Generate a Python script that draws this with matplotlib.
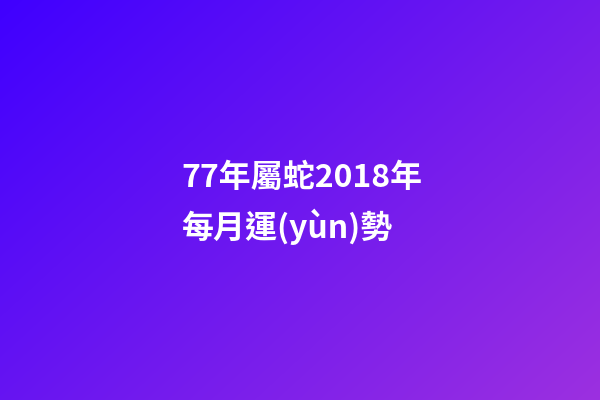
import numpy as np
import matplotlib
matplotlib.use("Agg")
import matplotlib.pyplot as plt

plt.rcParams['font.family'] = ['Noto Sans CJK TC', 'DejaVu Sans']

title_lines = ["77年屬蛇2018年", "每月運(yùn)勢"]
color_start = np.array([0x3f, 0x00, 0xff]) / 255.0
color_end = np.array([0x9c, 0x30, 0xe0]) / 255.0

W, H = 600, 400

fig = plt.figure(figsize=(6, 4), dpi=100)
ax = fig.add_axes([0, 0, 1, 1])
ax.set_xlim(0, W)
ax.set_ylim(H, 0)
ax.axis('off')

xx, yy = np.meshgrid(np.linspace(0, 1, W), np.linspace(0, 1, H))
t = 0.58 * xx + 0.42 * yy
img = color_start[None, None, :] * (1 - t[..., None]) + color_end[None, None, :] * t[..., None]
ax.imshow(img, extent=(0, W, H, 0), aspect='auto', interpolation='bilinear')

ax.text(181, 178, title_lines[0], color='white', fontsize=23, fontweight='bold',
        ha='left', va='center')
ax.text(181, 227, title_lines[1], color='white', fontsize=23, fontweight='bold',
        ha='left', va='center')

fig.savefig("out.png", dpi=100)
